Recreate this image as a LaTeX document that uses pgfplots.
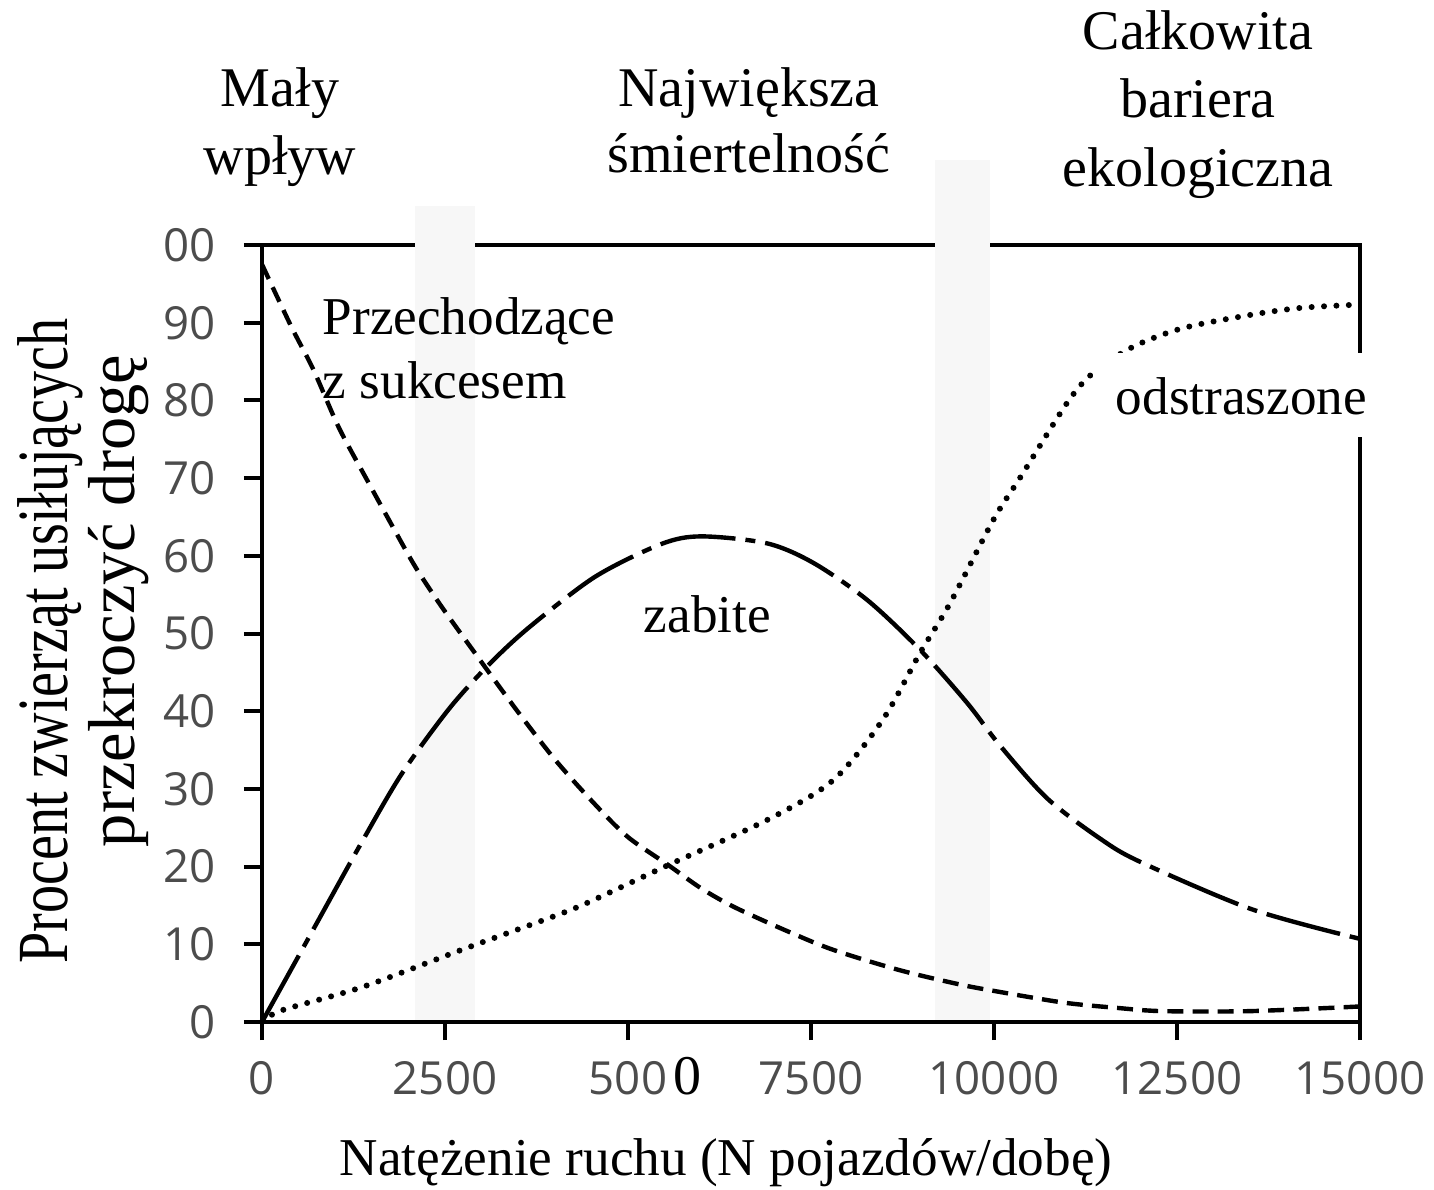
\documentclass[border=0pt]{standalone}
\usepackage{fontspec}
\setmainfont{Liberation Serif}
\newfontfamily\tickfont{Open Sans}
\usepackage{graphicx}
\usepackage{pgfplots}
\pgfplotsset{compat=1.18}
\begin{document}
\begin{tikzpicture}
\path[use as bounding box] (-65.5pt,-41.75pt) rectangle (293pt,255.5pt);
\begin{axis}[
 at={(0,0)}, anchor=south west,
 scale only axis, width=274.5pt, height=194.25pt,
 xmin=0, xmax=15000, ymin=0, ymax=100,
 clip=false,
 axis line style={line width=1pt},
 tick style={line width=1pt, black},
 tick align=outside, major tick length=4.5pt,
 xtick pos=bottom, ytick pos=left,
 xtick={0,2500,5000,7500,10000,12500,15000},
 xticklabels={0,2500,500\rlap{\smash{\kern1.5pt\fontsize{14}{14}\selectfont\rmfamily\color{black}0}},7500,10000,12500,15000},
 ytick={0,10,20,30,40,50,60,70,80,90,100},
 yticklabels={0,10,20,30,40,50,60,70,80,90,00},
 ticklabel style={font=\fontsize{11.4}{13}\selectfont\tickfont, text=black!70},
 xticklabel style={yshift=-1.8pt},
 yticklabel style={xshift=-3.6pt},
 scaled ticks=false,
]
% faint grey bands
\fill[black!3] (axis cs:2090,0.3) rectangle (axis cs:2910,105);
\fill[black!3] (axis cs:9194,0.3) rectangle (axis cs:9945,111);

% Przechodzace z sukcesem (dashed)
\addplot[black, line width=1.1pt, dash pattern=on 4pt off 2.3pt, smooth, tension=0.5] coordinates {
(0,97.5) (400,89.5) (700,84) (1050,76.5) (1450,69.5) (1800,63.5) (2100,58.5)
(2450,53.5) (2900,47.6) (3450,40.5) (4000,33.8) (4550,28) (5000,23.8)
(5550,20.2) (6000,17.2) (6450,14.8) (7150,11.8) (7800,9.3) (8700,6.7)
(9500,4.9) (10000,4.0) (10950,2.5) (11700,1.8) (12300,1.4) (13500,1.4) (15000,2.0)
};
% zabite (long dash - short dash)
\addplot[black, line width=1.1pt, dash pattern=on 19pt off 2.5pt on 2.5pt off 2.5pt, smooth, tension=0.5] coordinates {
(0,0) (700,11.9) (1366,23.2) (1913,32) (2555,40.3) (3100,46) (3650,50.8)
(4550,57.3) (5450,61.5) (6000,62.5) (6900,61.6) (7530,59.1) (8270,54.3)
(8990,47.9) (9630,41.1) (10080,35.6) (10724,28.8) (11450,23.6) (12000,20.6)
(13525,14.5) (15000,10.7)
};
% odstraszone (dotted)
\addplot[black, line width=1.5pt, dash pattern=on 0pt off 3.1pt, line cap=round, smooth, tension=0.5] coordinates {
(0,0) (270,1.5) (1370,4.5) (2730,9.3) (4100,14.0) (4620,16.1) (5550,20.2)
(6900,26) (7800,31.1) (8480,38.9) (8990,47.5) (9400,53.9) (9990,64.6)
(10360,70.1) (11000,79.7) (11350,83.5) (11900,86.9) (12580,89.3)
(13500,91.0) (14180,91.9) (14900,92.3) (15000,92.4)
};
\end{axis}

% headings
\begin{scope}[every node/.style={font=\fontsize{14}{17}\selectfont, anchor=base, inner sep=0pt}]
\node at (4.5pt,228.75pt) {Mały};
\node at (4.5pt,211.75pt) {wpływ};
\node at (121.75pt,228.75pt) {Największa};
\node at (121.75pt,212.25pt) {śmiertelność};
\node at (234pt,243pt) {Całkowita};
\node at (234pt,226pt) {bariera};
\node at (234pt,208.75pt) {ekologiczna};
\end{scope}

% curve labels
\begin{scope}[every node/.style={font=\fontsize{13.3}{16}\selectfont, anchor=base west, inner sep=0pt}]
\node at (15pt,171.75pt) {Przechodzące};
\node at (15pt,155.75pt) {z sukcesem};
\node at (95.25pt,97.25pt) {zabite};
\fill[white] (207.75pt,146.25pt) rectangle (275.75pt,167.25pt);
\node at (213.25pt,151.75pt) {odstraszone};
\end{scope}

% axis labels
\node[anchor=base, inner sep=0pt, font=\fontsize{13.3}{16}\selectfont] at (116pt,-38.25pt) {Natężenie ruchu (N pojazdów/dobę)};
\node[rotate=90, anchor=base, inner sep=0pt] at (-48.5pt,95.25pt) {\fontsize{18}{18}\selectfont\scalebox{0.78}[1]{Procent zwierząt usiłujących}};
\node[rotate=90, anchor=base, inner sep=0pt] at (-31.75pt,105.25pt) {\fontsize{16.6}{16.6}\selectfont przekroczyć drogę};
\end{tikzpicture}
\end{document}
